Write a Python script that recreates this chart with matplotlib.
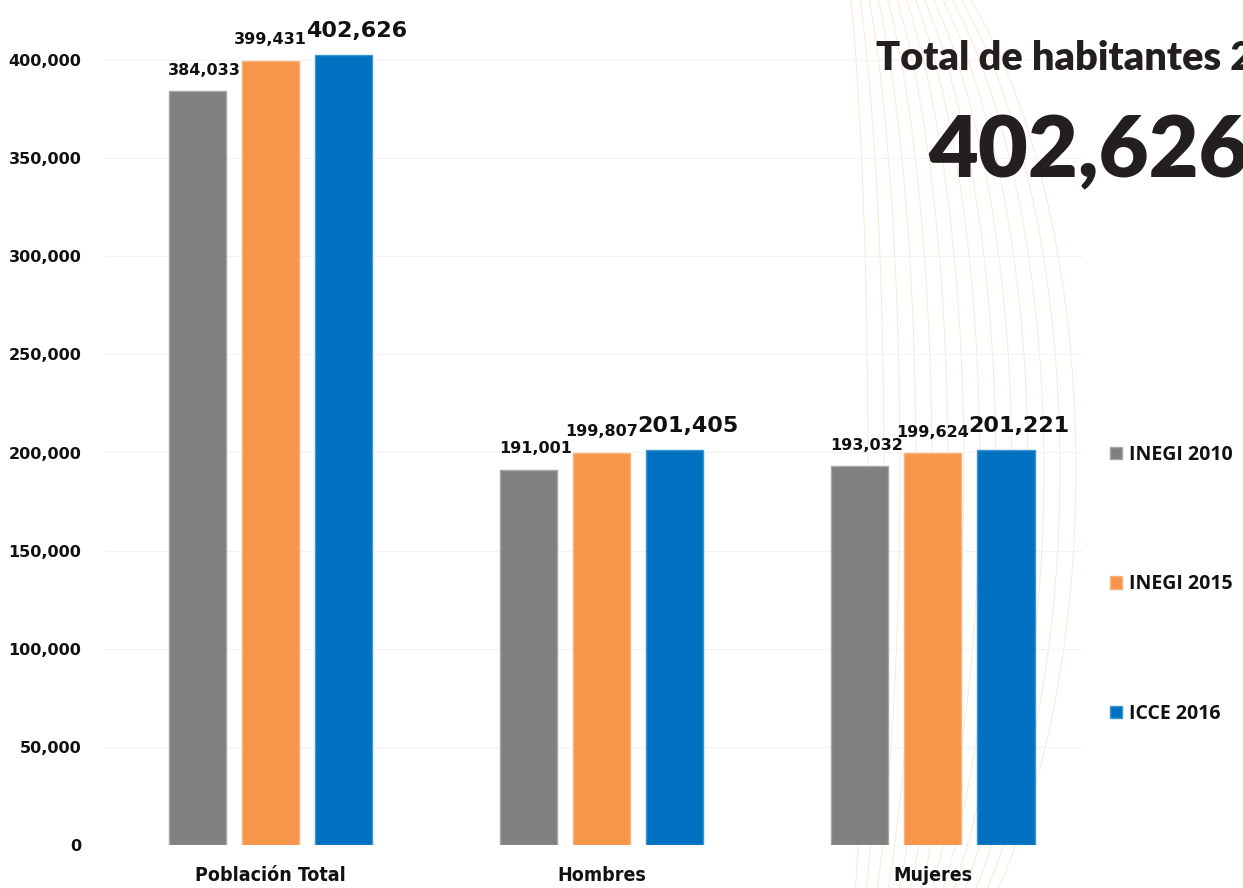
import matplotlib
matplotlib.use("Agg")
import matplotlib.pyplot as plt
from matplotlib.patches import Arc, Patch
import numpy as np

categories = ["Población Total", "Hombres", "Mujeres"]
series_names = ["INEGI 2010", "INEGI 2015", "ICCE 2016"]
inegi_2010 = [384033, 191001, 193032]
inegi_2015 = [399431, 199807, 199624]
icce_2016 = [402626, 201405, 201221]
yticks = [0, 50000, 100000, 150000, 200000, 250000, 300000, 350000, 400000]
title_text = "Total de habitantes 2016"
total_text = "402,626"

colors = ["#808080", "#F7964A", "#0070C0"]
edges = ["#A6A6A6", "#F9B27A", "#3F95D3"]

W, H = 1243, 888
fig = plt.figure(figsize=(W / 100, H / 100), dpi=100)
fig.patch.set_facecolor("white")

# decorative background (faint orange lens of arcs)
bg = fig.add_axes([0, 0, 1, 1], zorder=0)
bg.set_xlim(0, W)
bg.set_ylim(H, 0)
bg.axis("off")
deco = "#FCE6CC"
for k in range(14):
    a = 40 + k * 16
    bg.add_patch(Arc((828, 470), 2 * a, 1150, angle=0, theta1=-90, theta2=90,
                     color=deco, lw=0.6))
for k in range(12):
    a = 60 + k * 22
    bg.add_patch(Arc((828, -40), 2 * a, 2 * (300 + k * 30), angle=0, theta1=-90, theta2=0,
                     color=deco, lw=0.55))
    bg.add_patch(Arc((828, 930), 2 * a, 2 * (300 + k * 30), angle=0, theta1=0, theta2=90,
                     color=deco, lw=0.55))

ax = fig.add_axes([105 / W, 43 / H, (1083 - 105) / W, (845 - 20.75) / H], zorder=1)
ax.patch.set_alpha(0)

x = np.arange(len(categories))
step = 73 / 331
bw = 57 / 331
all_series = [inegi_2010, inegi_2015, icce_2016]
for i, (vals, c, e) in enumerate(zip(all_series, colors, edges)):
    xs = x + (i - 1) * step
    ax.bar(xs, vals, width=bw, color=c, edgecolor=e, linewidth=1, zorder=3)
    for xi, v in zip(xs, vals):
        if i == 2:
            ax.annotate(f"{v:,}", (xi + 0.04, v), xytext=(0, 13), textcoords="offset points",
                        ha="center", va="baseline", fontsize=16, fontweight="bold",
                        family="DejaVu Sans", color="#111111")
        else:
            ax.annotate(f"{v:,}", (xi + (0.02 if i == 0 else 0), v), xytext=(0, 12),
                        textcoords="offset points", ha="center", va="baseline",
                        fontsize=11.5, fontweight="bold", family="DejaVu Sans",
                        color="#111111")

ax.set_xlim(-0.5, 2.453)
ax.set_ylim(0, 420000)
ax.set_yticks(yticks)
ax.set_yticklabels([f"{t:,}" for t in yticks], fontsize=11.5, fontweight="bold",
                   family="DejaVu Sans", color="#111111")
ax.set_xticks(x)
ax.set_xticklabels(categories, fontsize=14, fontweight="bold", fontstretch="condensed",
                   family=["DejaVu Sans"], color="#111111")
ax.tick_params(axis="y", length=0, pad=17)
ax.tick_params(axis="x", length=0, pad=15)
for s in ax.spines.values():
    s.set_visible(False)
ax.yaxis.grid(True, color="#F3F3F3", lw=0.8, zorder=0)
ax.set_axisbelow(True)

handles = [Patch(facecolor=c, edgecolor=e) for c, e in zip(colors, edges)]
leg = fig.legend(handles, series_names, loc="upper left",
                 bbox_to_anchor=(1110 / W, 1 - 445 / H), frameon=False,
                 prop={"family": "Open Sans", "weight": "bold", "size": 14},
                 handlelength=0.6, handleheight=0.6, handletextpad=0.4,
                 labelspacing=5.62, borderaxespad=0, borderpad=0)
for t in leg.get_texts():
    t.set_color("#111111")

fig.text(876 / W, 1 - 70 / H, title_text, fontsize=28.5, fontweight="heavy",
         family="Lato", color="#231F20", ha="left", va="baseline")
fig.text(928 / W, 1 - 177 / H, total_text, fontsize=62, fontweight="heavy",
         family="Lato", color="#231F20", ha="left", va="baseline")

fig.savefig("out.png", dpi=100)
